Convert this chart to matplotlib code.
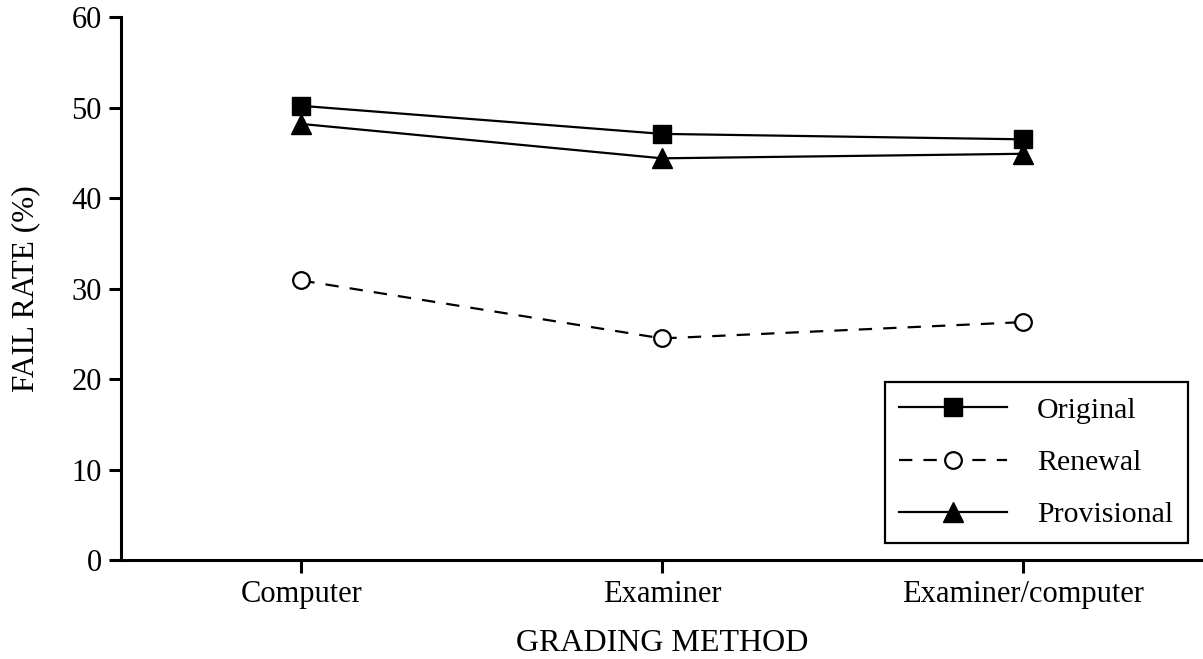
import matplotlib.pyplot as plt

plt.rcParams['font.family'] = ['Liberation Serif', 'DejaVu Serif']

methods = ["Computer", "Examiner", "Examiner/computer"]
original = [50.2, 47.1, 46.5]
renewal = [30.9, 24.5, 26.3]
provisional = [48.2, 44.4, 44.9]

fig = plt.figure(figsize=(12.03, 6.59), dpi=100)
ax = fig.add_axes([0.1006, 0.150, 0.8994, 0.824])

x = range(len(methods))
ax.plot(x, original, color='black', lw=1.6, marker='s', ms=13,
        mfc='black', mec='black', label='Original')
ax.plot(x, renewal, color='black', lw=1.6, ls=(0, (6, 5)), marker='o', ms=12,
        mfc='white', mec='black', mew=1.6, label='Renewal')
ax.plot(x, provisional, color='black', lw=1.6, marker='^', ms=14,
        mfc='black', mec='black', label='Provisional')

ax.set_xlim(-0.5, 2.5)
ax.set_ylim(0, 60)
ax.set_yticks(range(0, 61, 10))
ax.set_xticks(list(x))
ax.set_xticklabels(methods)

for s in ['top', 'right']:
    ax.spines[s].set_visible(False)
for s in ['left', 'bottom']:
    ax.spines[s].set_linewidth(2.2)
ax.tick_params(axis='both', width=2.2, length=9, labelsize=22, pad=5)

ax.set_xlabel("GRADING METHOD", fontsize=23, labelpad=15)
ax.set_ylabel("FAIL RATE (%)", fontsize=22.5, labelpad=22)

leg = ax.legend(loc='lower right', bbox_to_anchor=(0.986, 0.031), fontsize=21.5,
                frameon=True, fancybox=False, framealpha=1,
                handlelength=3.6, handletextpad=1.0, borderpad=0.5,
                labelspacing=0.85, borderaxespad=0)
leg.get_frame().set_edgecolor('black')
leg.get_frame().set_linewidth(1.6)

fig.savefig("out.png", dpi=100)
